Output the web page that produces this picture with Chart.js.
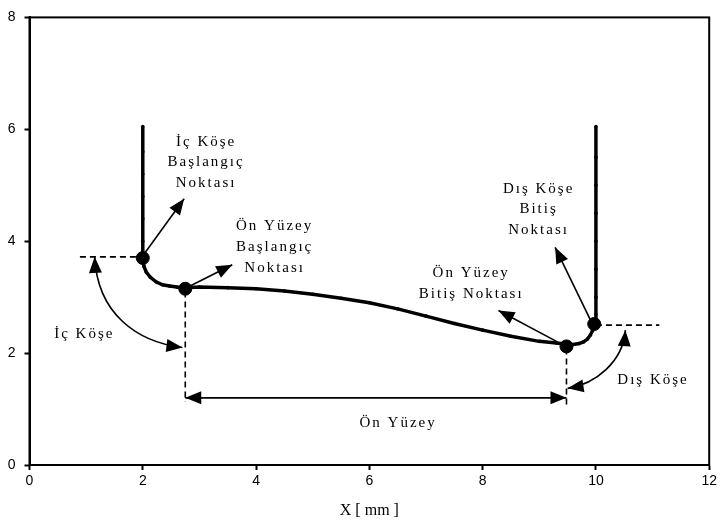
<!DOCTYPE html>
<html>
<head>
<meta charset="utf-8">
<script src="https://cdn.jsdelivr.net/npm/chart.js@4/dist/chart.umd.min.js"></script>
<style>
  body { margin: 0; background: #fff; }
  #wrap { width: 720px; height: 527px; }
</style>
</head>
<body>
<div id="wrap"><canvas id="myChart"></canvas></div>
<script>
// measured profile, X [mm] / Y [mm]
const profileX = [2.0, 2.0, 2.0, 2.0, 2.0, 2.0, 2.0, 2.02, 2.06, 2.13, 2.24, 2.35, 2.47, 2.6, 2.75,
                  3.0, 3.5, 4.0, 4.5, 5.0, 5.5, 6.0, 6.5, 7.0, 7.5, 8.0, 8.5, 9.0, 9.3, 9.5,
                  9.6, 9.7, 9.78, 9.85, 9.9, 9.94, 9.97, 9.99,
                  10.0, 10.0, 10.0, 10.0, 10.0, 10.0, 10.0, 10.0];
const profileY = [6.05, 5.6, 5.2, 4.8, 4.4, 4.0, 3.7, 3.55, 3.45, 3.36, 3.27, 3.22, 3.2, 3.18, 3.17,
                  3.18, 3.17, 3.15, 3.11, 3.05, 2.98, 2.9, 2.79, 2.66, 2.53, 2.41, 2.3, 2.21, 2.18, 2.16,
                  2.155, 2.17, 2.2, 2.25, 2.32, 2.4, 2.48, 2.6,
                  2.7, 3.0, 3.5, 4.0, 4.5, 5.0, 5.5, 6.05];

// key points: iç köşe başlangıç, ön yüzey başlangıç, ön yüzey bitiş, dış köşe bitiş
const keyX = [2.0, 2.75, 9.48, 9.97];
const keyY = [3.7, 3.15, 2.12, 2.52];

const xTicks = [0, 2, 4, 6, 8, 10, 12];
const yTicks = [0, 2, 4, 6, 8];

// annotations (data coordinates)
const arrows = [
  [2.03, 3.78, 2.73, 4.76],
  [2.8, 3.18, 3.58, 3.58],
  [9.32, 2.2, 8.28, 2.76],
  [9.9, 2.6, 9.28, 3.89]
];
const dashes = [
  [0.89, 3.72, 2.0, 3.72],
  [2.75, 3.1, 2.75, 1.13],
  [9.48, 2.08, 9.48, 1.07],
  [10.0, 2.5, 11.12, 2.5]
];
const spanArrow = [2.75, 1.2, 9.48, 1.2];
const curves = [
  [1.15, 3.72, 1.2, 2.7, 1.9, 2.2, 2.7, 2.1],
  [10.52, 2.41, 10.48, 1.85, 10.0, 1.45, 9.5, 1.37]
];
const labels = [
  ['İç Köşe', 3.1, 5.77], ['Başlangıç', 3.1, 5.41], ['Noktası', 3.1, 5.04],
  ['Ön Yüzey', 4.31, 4.27], ['Başlangıç', 4.31, 3.89], ['Noktası', 4.31, 3.52],
  ['Ön Yüzey', 7.78, 3.43], ['Bitiş Noktası', 7.78, 3.05],
  ['Dış Köşe', 8.97, 4.94], ['Bitiş', 8.97, 4.58], ['Noktası', 8.97, 4.2],
  ['İç Köşe', 0.95, 2.34],
  ['Dış Köşe', 10.99, 1.52],
  ['Ön Yüzey', 6.49, 0.75]
];

function head(ctx, x0, y0, x1, y1) {
  const a = Math.atan2(y1 - y0, x1 - x0);
  const L = 16, W = 6.5;
  ctx.beginPath();
  ctx.moveTo(x1, y1);
  ctx.lineTo(x1 - L * Math.cos(a) + W * Math.sin(a), y1 - L * Math.sin(a) - W * Math.cos(a));
  ctx.lineTo(x1 - L * Math.cos(a) - W * Math.sin(a), y1 - L * Math.sin(a) + W * Math.cos(a));
  ctx.closePath();
  ctx.fill();
}

const notes = {
  id: 'notes',
  afterDatasetsDraw(chart) {
    const ctx = chart.ctx;
    const sx = v => chart.scales.x.getPixelForValue(v);
    const sy = v => chart.scales.y.getPixelForValue(v);
    const a = chart.chartArea;
    ctx.save();
    ctx.strokeStyle = '#000';
    ctx.fillStyle = '#000';

    // frame
    ctx.lineWidth = 2;
    ctx.strokeRect(a.left, a.top, a.right - a.left, a.bottom - a.top);

    ctx.lineWidth = 1.6;
    ctx.setLineDash([6, 4]);
    dashes.forEach(d => {
      ctx.beginPath();
      ctx.moveTo(sx(d[0]), sy(d[1]));
      ctx.lineTo(sx(d[2]), sy(d[3]));
      ctx.stroke();
    });
    ctx.setLineDash([]);

    arrows.forEach(d => {
      const x0 = sx(d[0]), y0 = sy(d[1]), x1 = sx(d[2]), y1 = sy(d[3]);
      ctx.beginPath();
      ctx.moveTo(x0, y0);
      ctx.lineTo(x1, y1);
      ctx.stroke();
      head(ctx, x0, y0, x1, y1);
    });

    const s = spanArrow;
    ctx.beginPath();
    ctx.moveTo(sx(s[0]), sy(s[1]));
    ctx.lineTo(sx(s[2]), sy(s[3]));
    ctx.stroke();
    head(ctx, sx(s[2]), sy(s[3]), sx(s[0]), sy(s[1]));
    head(ctx, sx(s[0]), sy(s[1]), sx(s[2]), sy(s[3]));

    curves.forEach(c => {
      const p = [sx(c[0]), sy(c[1]), sx(c[2]), sy(c[3]), sx(c[4]), sy(c[5]), sx(c[6]), sy(c[7])];
      ctx.beginPath();
      ctx.moveTo(p[0], p[1]);
      ctx.bezierCurveTo(p[2], p[3], p[4], p[5], p[6], p[7]);
      ctx.stroke();
      head(ctx, p[2], p[3], p[0], p[1]);
      head(ctx, p[4], p[5], p[6], p[7]);
    });

    ctx.font = '15px "Liberation Serif", "Times New Roman", serif';
    ctx.letterSpacing = '2px';
    ctx.textAlign = 'center';
    ctx.textBaseline = 'middle';
    labels.forEach(t => ctx.fillText(t[0], sx(t[1]) + 1, sy(t[2])));
    ctx.restore();
  }
};

const ctx = document.getElementById('myChart').getContext('2d');
const myChart = new Chart(ctx, {
  type: 'scatter',
  data: {
    datasets: [{
      data: profileX.map((x, i) => ({ x: x, y: profileY[i] })),
      showLine: true,
      borderColor: '#000',
      backgroundColor: '#000',
      borderWidth: 3.5,
      pointRadius: 1.8,
      pointBorderWidth: 0,
      tension: 0
    }, {
      data: keyX.map((x, i) => ({ x: x, y: keyY[i] })),
      borderColor: '#000',
      backgroundColor: '#000',
      pointRadius: 6.5
    }]
  },
  options: {
    responsive: true,
    maintainAspectRatio: false,
    animation: false,
    layout: { padding: { top: 16, right: 8, left: 0, bottom: 7 } },
    plugins: { legend: { display: false }, tooltip: { enabled: false } },
    scales: {
      x: {
        type: 'linear', min: 0, max: 12,
        afterBuildTicks: sc => { sc.ticks = xTicks.map(v => ({ value: v })); },
        afterFit: sc => { sc.height = 55; },
        grid: { drawOnChartArea: false, drawTicks: true, tickLength: 5, tickWidth: 2, tickColor: '#000' },
        border: { color: '#000', width: 2 },
        ticks: { color: '#000', padding: 3, font: { family: '"Liberation Sans", Arial, sans-serif', size: 14 } },
        title: { display: true, text: 'X [ mm ]', color: '#000', padding: { top: 2, bottom: 0 },
                 font: { family: '"Liberation Serif", "Times New Roman", serif', size: 16 } }
      },
      y: {
        type: 'linear', min: 0, max: 8,
        afterBuildTicks: sc => { sc.ticks = yTicks.map(v => ({ value: v })); },
        afterFit: sc => { sc.width = 29.5; },
        grid: { drawOnChartArea: false, drawTicks: true, tickLength: 5, tickWidth: 2, tickColor: '#000' },
        border: { color: '#000', width: 2 },
        ticks: { color: '#000', padding: 9, font: { family: '"Liberation Sans", Arial, sans-serif', size: 14 } }
      }
    }
  },
  plugins: [notes]
});
</script>
</body>
</html>
